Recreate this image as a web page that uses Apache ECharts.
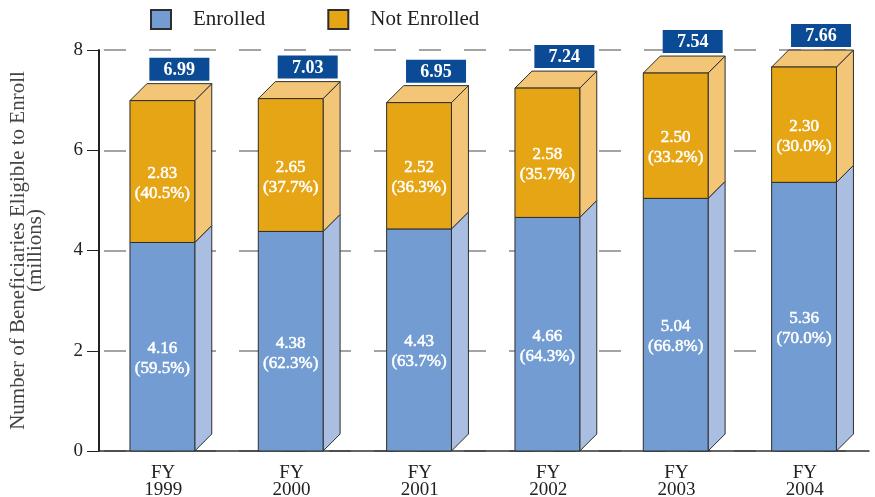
<!DOCTYPE html>
<html>
<head>
<meta charset="utf-8">
<script src="https://cdn.jsdelivr.net/npm/echarts@6/dist/echarts.min.js"></script>
<style>html,body{margin:0;padding:0;background:#fff}#c{width:875px;height:497px}</style>
</head>
<body>
<div id="c"></div>
<script>
const categories = ['FY\n1999', 'FY\n2000', 'FY\n2001', 'FY\n2002', 'FY\n2003', 'FY\n2004'];
const enrolled = [4.16, 4.38, 4.43, 4.66, 5.04, 5.36];
const notEnrolled = [2.83, 2.65, 2.52, 2.58, 2.50, 2.30];
const totals = [6.99, 7.03, 6.95, 7.24, 7.54, 7.66];
const enrolledPct = [59.5, 62.3, 63.7, 64.3, 66.8, 70.0];
const notEnrolledPct = [40.5, 37.7, 36.3, 35.7, 33.2, 30.0];
const yTicks = [0, 2, 4, 6, 8];

const FONT = '"Liberation Serif", "Times New Roman", serif';
const STROKE = '#2e2e2e';
const colors = {
  enrolled: { front: '#729CD2', side: '#A9BEE1' },
  notEnrolled: { front: '#E6A514', side: '#F2C577' }
};

function makeRender(col, isTop) {
  return function (params, api) {
    const ci = api.value(0);
    const base = api.value(1), top = api.value(2);
    const valText = api.value(3).toFixed(2);
    const pctText = '(' + api.value(4).toFixed(1) + '%)';
    const pb = api.coord([ci, base]);
    const pt = api.coord([ci, top]);
    const band = api.size([1, 0])[0];
    const w = band * 0.505;
    const d = 17;
    const cx = pb[0] - 0.8;
    const x0 = cx - w / 2, x1 = cx + w / 2;
    const yb = pb[1], yt = pt[1];
    const children = [];
    children.push({
      type: 'polygon',
      shape: { points: [[x1, yb], [x1 + d, yb - d], [x1 + d, yt - d], [x1, yt]] },
      style: { fill: col.side, stroke: STROKE, lineWidth: 1 }
    });
    if (isTop) {
      children.push({
        type: 'polygon',
        shape: { points: [[x0, yt], [x0 + d, yt - d], [x1 + d, yt - d], [x1, yt]] },
        style: { fill: col.side, stroke: STROKE, lineWidth: 1 }
      });
    }
    children.push({
      type: 'rect',
      shape: { x: x0, y: yt, width: w, height: yb - yt },
      style: { fill: col.front, stroke: STROKE, lineWidth: 1 }
    });
    children.push({
      type: 'text',
      style: {
        text: valText + '\n' + pctText,
        x: cx, y: (yt + yb) / 2 + 12,
        align: 'center', verticalAlign: 'middle',
        fill: '#ffffff', fontSize: 17, fontFamily: FONT, lineHeight: 20,
        stroke: '#ffffff', lineWidth: 0.5
      }
    });
    if (isTop) {
      const bw = 60, bh = 23;
      const bcx = cx + d;
      const bBottom = yt - d - 3;
      children.push({
        type: 'rect',
        shape: { x: bcx - bw / 2, y: bBottom - bh, width: bw, height: bh },
        style: { fill: '#0B4A94' }
      });
      children.push({
        type: 'text',
        style: {
          text: top.toFixed(2),
          x: bcx, y: bBottom - bh / 2 + 1,
          align: 'center', verticalAlign: 'middle',
          fill: '#ffffff', fontSize: 18, fontWeight: 'bold', fontFamily: FONT
        }
      });
    }
    return { type: 'group', children: children };
  };
}

const enrolledData = categories.map((c, i) => [i, 0, enrolled[i], enrolled[i], enrolledPct[i]]);
const notEnrolledData = categories.map((c, i) => [i, enrolled[i], totals[i], notEnrolled[i], notEnrolledPct[i]]);

const chart = echarts.init(document.getElementById('c'), null, { renderer: 'canvas' });
chart.setOption({
  animation: false,
  backgroundColor: '#ffffff',
  textStyle: { fontFamily: FONT },
  legend: {
    left: 150, top: 9, padding: 0,
    itemWidth: 20, itemHeight: 19, itemGap: 62,
    icon: 'rect',
    textStyle: { fontFamily: FONT, fontSize: 21, color: '#222', padding: [0, 0, 0, 17] },
    data: ['Enrolled', 'Not Enrolled']
  },
  grid: { left: 99, right: 6, top: 50, bottom: 46, containLabel: false, outerBoundsMode: 'none' },
  xAxis: {
    type: 'category',
    data: categories,
    axisLine: { show: true, lineStyle: { color: '#333', width: 1.5 } },
    axisTick: { show: false },
    axisLabel: { fontFamily: FONT, fontSize: 19, color: '#222', lineHeight: 17, margin: 14 },
    splitLine: { show: false }
  },
  yAxis: {
    type: 'value',
    min: yTicks[0], max: yTicks[yTicks.length - 1], interval: 2,
    name: 'Number of Beneficiaries Eligible to Enroll\n(millions)',
    nameLocation: 'middle',
    nameRotate: 90,
    nameGap: 55,
    nameTextStyle: { fontFamily: FONT, fontSize: 21, color: '#444', lineHeight: 17 },
    axisLine: { show: true, lineStyle: { color: '#222', width: 2 } },
    axisTick: { show: true, length: 12, lineStyle: { color: '#222', width: 1 } },
    axisLabel: { fontFamily: FONT, fontSize: 19, color: '#222', margin: 16 },
    splitLine: { show: true, lineStyle: { color: '#A3A3A3', width: 2, type: [22, 23], dashOffset: 40 } }
  },
  series: [
    {
      name: 'Enrolled', type: 'custom',
      itemStyle: { color: colors.enrolled.front, borderColor: STROKE, borderWidth: 1 },
      encode: { x: 0, y: [1, 2] },
      renderItem: makeRender(colors.enrolled, false),
      data: enrolledData
    },
    {
      name: 'Not Enrolled', type: 'custom',
      itemStyle: { color: colors.notEnrolled.front, borderColor: STROKE, borderWidth: 1 },
      encode: { x: 0, y: [1, 2] },
      renderItem: makeRender(colors.notEnrolled, true),
      data: notEnrolledData
    }
  ]
});
</script>
</body>
</html>
